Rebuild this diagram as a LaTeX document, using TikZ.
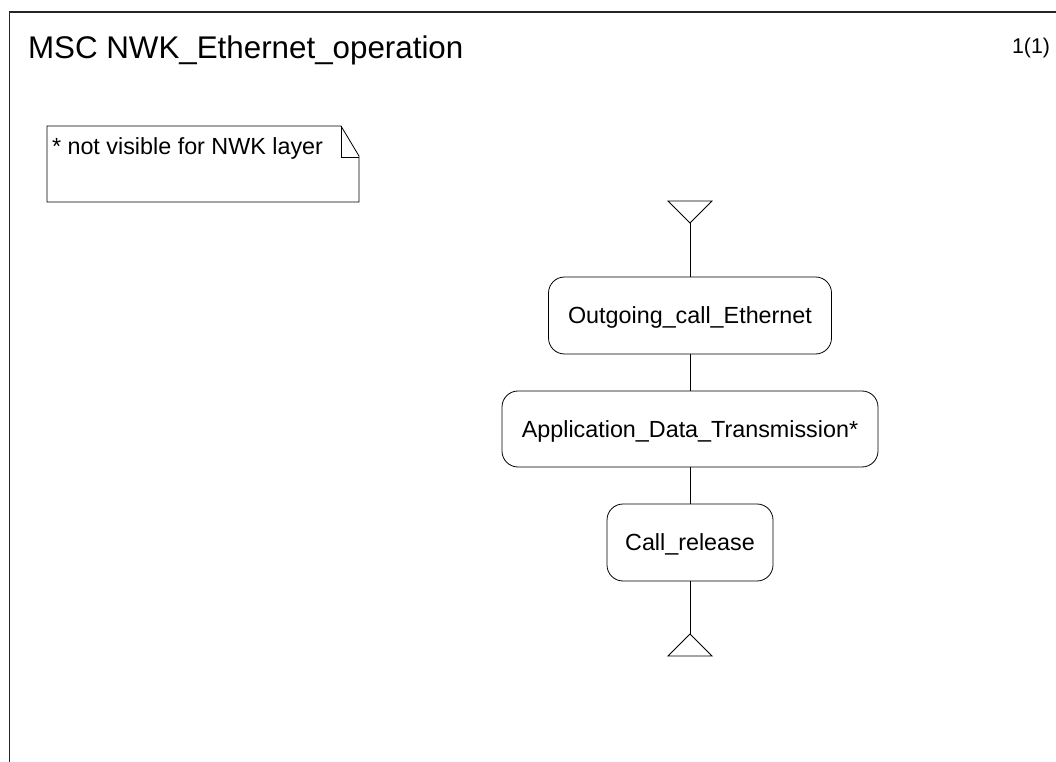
\documentclass[tikz,border=0pt]{standalone}
\usepackage{fontspec}
\setmainfont{Liberation Sans}
\begin{document}
\begin{tikzpicture}[x=0.75pt,y=-0.75pt,
  every node/.style={inner sep=0pt, outer sep=0pt},
  ln/.style={line width=0.6pt, black},
  frame/.style={line width=0.9pt, black!85},
  bodyfont/.style={font=\fontsize{17.5pt}{21pt}\selectfont},
  procbox/.style={draw, line width=0.6pt, rounded corners=12pt, bodyfont,
    text height=12.5pt, text depth=0pt, align=center}]
\useasboundingbox (0,0) rectangle (1056,762);
% frame
\draw[frame] (1056,12) -- (9.5,12) -- (9.5,762);
\node[anchor=base west, font=\fontsize{23.5pt}{28pt}\selectfont] (title) at (28,59) {MSC NWK\_Ethernet\_operation};
\node[anchor=base east, font=\fontsize{16pt}{19pt}\selectfont] (page) at (1050,54) {1(1)};
% note
\draw[ln] (47,126) -- (341,126) -- (359,156) -- (359,202) -- (47,202) -- cycle;
\draw[ln] (341,126) -- (341,157) -- (359,157);
\node[anchor=base west, bodyfont] (notetext) at (52,155) {* not visible for NWK layer};
% start / end symbols
\coordinate (topT) at (690,223);
\coordinate (botT) at (690,634);
\draw[ln] (668,201) -- (712,201) -- (topT) -- cycle;
\draw[ln] (botT) -- (668,656) -- (712,656) -- cycle;
% boxes
\node[procbox, minimum width=212.25pt, minimum height=57.75pt] (b1) at (690,315.5) {Outgoing\_call\_Ethernet};
\node[procbox, minimum width=282pt, minimum height=57pt] (b2) at (690,429) {Application\_Data\_Transmission*};
\node[procbox, minimum width=124.5pt, minimum height=57.75pt] (b3) at (690,542.5) {Call\_release};
% connectors
\draw[ln] (topT) -- (b1);
\draw[ln] (b1) -- (b2);
\draw[ln] (b2) -- (b3);
\draw[ln] (b3) -- (botT);
\end{tikzpicture}
\end{document}
